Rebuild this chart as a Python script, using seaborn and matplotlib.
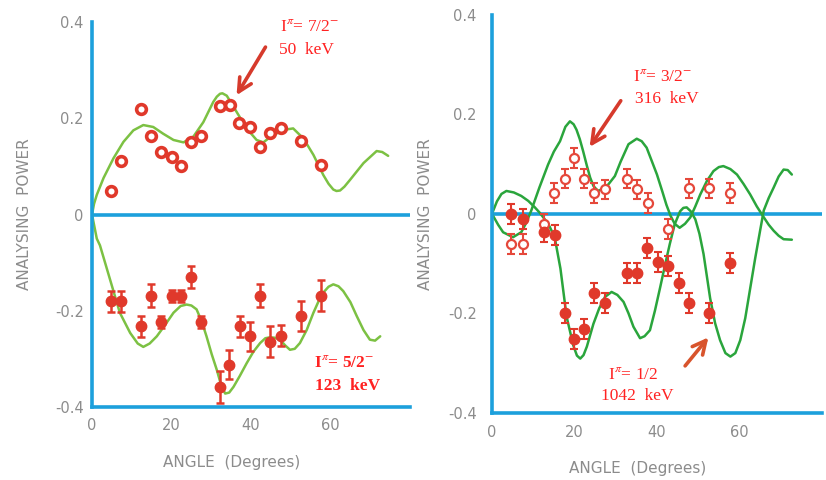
import numpy as np
import pandas as pd
import matplotlib
matplotlib.use("Agg")
import matplotlib.pyplot as plt
from matplotlib.ticker import MultipleLocator
import seaborn as sns

# ---- left panel: 7/2- (50 keV) and 5/2- (123 keV) ----
left_up_x = [4.7, 7.2, 12.3, 14.8, 17.4, 20.0, 22.5, 24.8, 27.4, 32.3, 34.7, 37.1, 39.7, 42.3, 44.9, 47.5, 52.5, 57.5]
left_up_y = [0.050, 0.111, 0.219, 0.164, 0.129, 0.120, 0.101, 0.151, 0.163, 0.225, 0.228, 0.190, 0.181, 0.141, 0.170, 0.180, 0.153, 0.102]

left_dn_x = [4.8, 7.2, 12.3, 14.8, 17.4, 20.0, 22.5, 24.9, 27.4, 32.2, 34.5, 37.2, 39.7, 42.3, 44.9, 47.5, 52.5, 57.5]
left_dn_y = [-0.180, -0.180, -0.232, -0.169, -0.223, -0.169, -0.169, -0.129, -0.223, -0.359, -0.312, -0.232,
             -0.253, -0.169, -0.264, -0.252, -0.211, -0.169]
left_dn_err = [0.022, 0.022, 0.022, 0.024, 0.012, 0.012, 0.012, 0.023, 0.012, 0.033, 0.030, 0.022,
               0.030, 0.024, 0.033, 0.022, 0.031, 0.032]

curve_up_x = [0, 0.5, 1.2, 2.9, 5.4, 7.9, 10.4, 12.9, 15.4, 17.9, 20.5, 23.0, 25.5, 28.0, 30.5, 31.4, 32.2,
              32.8, 33.9, 36.4, 38.9, 41.4, 43.1, 45.6, 49.0, 50.6, 53.2, 55.7, 58.2, 59.5, 60.7, 61.5,
              62.4, 63.5, 64.9, 68.3, 71.6, 73.0, 74.5]
curve_up_y = [0, 0.022, 0.041, 0.076, 0.117, 0.151, 0.175, 0.186, 0.182, 0.168, 0.155, 0.150, 0.162, 0.192,
              0.234, 0.245, 0.251, 0.252, 0.247, 0.213, 0.179, 0.155, 0.150, 0.166, 0.177, 0.179, 0.158,
              0.124, 0.082, 0.064, 0.052, 0.049, 0.050, 0.058, 0.072, 0.107, 0.132, 0.130, 0.122]

curve_dn_x = [0, 1.2, 2.0, 4.5, 7.0, 9.6, 11.5, 12.9, 14.5, 16.3, 18.5, 20.5, 22.3, 23.8, 25.0, 26.3, 27.6,
              28.8, 30.1, 31.4, 32.5, 33.5, 34.5, 35.6, 37.2, 38.9, 40.6, 42.3, 43.6, 44.8, 46.0, 47.3,
              48.6, 49.8, 51.0, 52.3, 54.0, 55.7, 57.0, 58.2, 59.5, 60.7, 62.0, 63.2, 65.0, 66.6, 68.3,
              69.9, 71.2, 72.5]
curve_dn_y = [0, -0.050, -0.064, -0.134, -0.204, -0.246, -0.268, -0.275, -0.268, -0.253, -0.228, -0.204,
              -0.190, -0.187, -0.189, -0.197, -0.222, -0.253, -0.290, -0.323, -0.355, -0.372, -0.370,
              -0.358, -0.335, -0.309, -0.285, -0.267, -0.257, -0.255, -0.256, -0.260, -0.272, -0.281,
              -0.279, -0.267, -0.240, -0.204, -0.180, -0.162, -0.150, -0.145, -0.149, -0.159, -0.182,
              -0.211, -0.240, -0.260, -0.262, -0.253]

# ---- right panel: 3/2- (316 keV) open, 1/2 (1042 keV) filled ----
open_x = [4.7, 7.5, 12.6, 15.1, 17.6, 20.0, 22.4, 24.8, 27.4, 32.7, 35.1, 37.8, 42.7, 47.7, 52.6, 57.8]
open_y = [-0.061, -0.061, -0.020, 0.041, 0.071, 0.113, 0.071, 0.041, 0.049, 0.071, 0.049, 0.021,
          -0.031, 0.051, 0.051, 0.041]
filled_x = [4.7, 7.5, 12.6, 15.2, 17.6, 20.0, 22.4, 24.8, 27.4, 32.7, 35.1, 37.6, 40.2, 42.7, 45.4, 47.7, 52.7, 57.8]
filled_y = [-0.001, -0.011, -0.037, -0.043, -0.200, -0.252, -0.231, -0.159, -0.179, -0.119, -0.119,
            -0.069, -0.097, -0.104, -0.139, -0.179, -0.200, -0.099]
right_err = 0.02

curve_b_x = [0, 1.5, 2.7, 5.1, 7.1, 8.3, 9.5, 11.5, 13.6, 15.0, 16.5, 17.8, 18.9, 19.8, 20.5, 21.3, 22.1,
             23.0, 23.8, 24.6, 25.7, 26.8, 28.2, 29.8, 31.2, 33.1, 35.1, 36.3, 37.5, 38.8, 40.0, 41.3,
             42.3, 43.3, 44.3, 45.5, 46.8, 48.1, 49.3, 50.5, 52.1, 53.7, 55.0, 56.1, 57.8, 59.4, 61.0,
             62.6, 64.2, 65.9, 67.1, 68.3, 69.5, 70.7, 72.7]
curve_b_y = [0, -0.022, -0.037, -0.047, -0.037, -0.018, 0.006, 0.053, 0.099, 0.125, 0.146, 0.175, 0.186,
             0.180, 0.169, 0.150, 0.126, 0.097, 0.073, 0.056, 0.046, 0.050, 0.059, 0.076, 0.105, 0.140,
             0.151, 0.146, 0.133, 0.105, 0.079, 0.045, 0.018, -0.004, -0.020, -0.028, -0.020, -0.007,
             0.015, 0.039, 0.066, 0.086, 0.094, 0.096, 0.090, 0.079, 0.060, 0.039, 0.015, -0.007,
             -0.022, -0.034, -0.044, -0.051, -0.052]

curve_a_x = [0, 1.2, 2.3, 3.5, 5.3, 7.1, 8.8, 10.4, 11.6, 12.8, 14.0, 15.2, 16.6, 18.1, 19.7, 20.6, 21.4,
             22.2, 23.0, 24.6, 26.0, 27.4, 29.0, 30.4, 31.9, 33.1, 34.3, 35.9, 37.0, 38.3, 39.5, 40.8,
             41.9, 43.1, 44.3, 45.6, 46.4, 47.2, 48.2, 49.3, 50.3, 51.3, 52.9, 54.1, 55.3, 56.6, 57.8,
             59.0, 60.2, 61.4, 62.6, 63.8, 65.0, 65.9, 67.1, 68.3, 69.5, 70.7, 71.7, 72.7]
curve_a_y = [0, 0.025, 0.040, 0.046, 0.043, 0.036, 0.026, 0.013, 0.002, -0.011, -0.026, -0.047, -0.110,
             -0.207, -0.264, -0.285, -0.291, -0.284, -0.267, -0.221, -0.190, -0.167, -0.157, -0.163,
             -0.177, -0.200, -0.227, -0.250, -0.246, -0.234, -0.195, -0.147, -0.105, -0.061, -0.021,
             0.005, 0.012, 0.013, 0.005, -0.011, -0.040, -0.081, -0.170, -0.220, -0.254, -0.280,
             -0.287, -0.280, -0.254, -0.210, -0.150, -0.090, -0.034, 0.007, 0.032, 0.053, 0.075,
             0.089, 0.088, 0.079]

x_ticks = [0, 20, 40, 60]
y_ticks = [-0.4, -0.2, 0, 0.2, 0.4]
y_tick_labels = ["-0.4", "-0.2", "0", "0.2", "0.4"]

BLUE = "#1ca0dc"
RED = "#e0392b"
TXT_RED = "#ff2222"
GREY = "#8c8c8c"

sns.set_style("white")
plt.rcParams["font.family"] = ["DejaVu Sans"]
plt.rcParams["mathtext.fontset"] = "stix"

fig = plt.figure(figsize=(8.26, 4.8), dpi=100)
ax1 = fig.add_axes([0.1114, 0.152, 0.385, 0.802])
ax2 = fig.add_axes([0.5956, 0.140, 0.3995, 0.829])


def style_axes(ax, ypad, xpad, ylab_x, xlab_xy):
    ax.set_xlim(0, 80)
    ax.set_ylim(-0.4, 0.4)
    for s in ["top", "right"]:
        ax.spines[s].set_visible(False)
    for s in ["left", "bottom"]:
        ax.spines[s].set_color(BLUE)
        ax.spines[s].set_linewidth(2.6)
    ax.axhline(0, color=BLUE, lw=2.6, zorder=1)
    ax.set_xticks(x_ticks)
    ax.set_xticklabels([str(t) for t in x_ticks])
    ax.set_yticks(y_ticks)
    ax.set_yticklabels(y_tick_labels)
    ax.xaxis.set_minor_locator(MultipleLocator(10))
    ax.yaxis.set_minor_locator(MultipleLocator(0.1))
    ax.tick_params(which="both", direction="in", length=5, width=1.3, color="#333333",
                   labelcolor=GREY, labelsize=10.5)
    ax.tick_params(axis="y", pad=ypad)
    ax.tick_params(axis="x", pad=xpad)
    ax.set_ylabel("ANALYSING  POWER", color=GREY, fontsize=11)
    ax.yaxis.set_label_coords(ylab_x, 0.5)
    ax.set_xlabel("ANGLE  (Degrees)", color=GREY, fontsize=11)
    ax.xaxis.set_label_coords(*xlab_xy)


style_axes(ax1, 6, 8, -0.189, (0.44, -0.125))
style_axes(ax2, 11, 9, -0.179, (0.44, -0.122))

# left panel curves and points
sns.lineplot(x=curve_up_x, y=curve_up_y, ax=ax1, color="#7cc143", lw=1.8, sort=False, estimator=None, zorder=2)
sns.lineplot(x=curve_dn_x, y=curve_dn_y, ax=ax1, color="#7cc143", lw=1.8, sort=False, estimator=None, zorder=2)
ax1.errorbar(left_dn_x, left_dn_y, yerr=left_dn_err, fmt="none", ecolor=RED, elinewidth=1.8,
             capsize=3, capthick=1.8, zorder=3)
ax1.plot(left_dn_x, left_dn_y, "o", ms=7.5, color=RED, zorder=4)
ax1.plot(left_up_x, left_up_y, "o", ms=7, mfc="white", mec=RED, mew=2.6, zorder=4)

# right panel curves and points
sns.lineplot(x=curve_b_x, y=curve_b_y, ax=ax2, color="#2aa53c", lw=1.8, sort=False, estimator=None, zorder=2)
sns.lineplot(x=curve_a_x, y=curve_a_y, ax=ax2, color="#2aa53c", lw=1.8, sort=False, estimator=None, zorder=2)
ax2.errorbar(open_x, open_y, yerr=right_err, fmt="none", ecolor="#e5483b", elinewidth=1.5,
             capsize=3, capthick=1.5, zorder=3)
ax2.plot(open_x, open_y, "o", ms=6.5, mfc="white", mec="#e5483b", mew=1.6, zorder=4)
ax2.errorbar(filled_x, filled_y, yerr=right_err, fmt="none", ecolor=RED, elinewidth=1.5,
             capsize=3, capthick=1.5, zorder=3)
ax2.plot(filled_x, filled_y, "o", ms=7.5, color=RED, zorder=4)

# annotations
serif = ["Liberation Serif", "DejaVu Serif"]
fs = 12.5
ax1.text(54.8, 0.39, r"I$^{\pi}$= 7/2$^{-}$", color=TXT_RED, fontsize=fs, family=serif, ha="center", va="center")
ax1.text(54.0, 0.342, "50  keV", color=TXT_RED, fontsize=fs, family=serif, ha="center", va="center")
ax1.annotate("", xy=(36.0, 0.243), xytext=(44.0, 0.353),
             arrowprops=dict(arrowstyle="->", lw=2.6, color="#d63a2c", mutation_scale=24))
ax1.text(55.8, -0.308, r"I$^{\pi}$= 5/2$^{-}$", color=TXT_RED, fontsize=fs, family=serif,
         ha="left", va="center", weight="bold")
ax1.text(56.2, -0.356, "123  keV", color=TXT_RED, fontsize=fs, family=serif,
         ha="left", va="center", weight="bold")

ax2.text(34.2, 0.276, r"I$^{\pi}$= 3/2$^{-}$", color=TXT_RED, fontsize=fs, family=serif, ha="left", va="center")
ax2.text(34.7, 0.230, "316  keV", color=TXT_RED, fontsize=fs, family=serif, ha="left", va="center")
ax2.annotate("", xy=(23.3, 0.130), xytext=(31.6, 0.232),
             arrowprops=dict(arrowstyle="->", lw=2.6, color="#d63a2c", mutation_scale=24))
ax2.text(34.2, -0.324, r"I$^{\pi}$= 1/2", color=TXT_RED, fontsize=fs, family=serif, ha="center", va="center")
ax2.text(35.2, -0.366, "1042  keV", color=TXT_RED, fontsize=fs, family=serif, ha="center", va="center")
ax2.annotate("", xy=(52.9, -0.244), xytext=(46.4, -0.31),
             arrowprops=dict(arrowstyle="->", lw=2.6, color="#d8542c", mutation_scale=24))

fig.savefig("out.png", dpi=100)
